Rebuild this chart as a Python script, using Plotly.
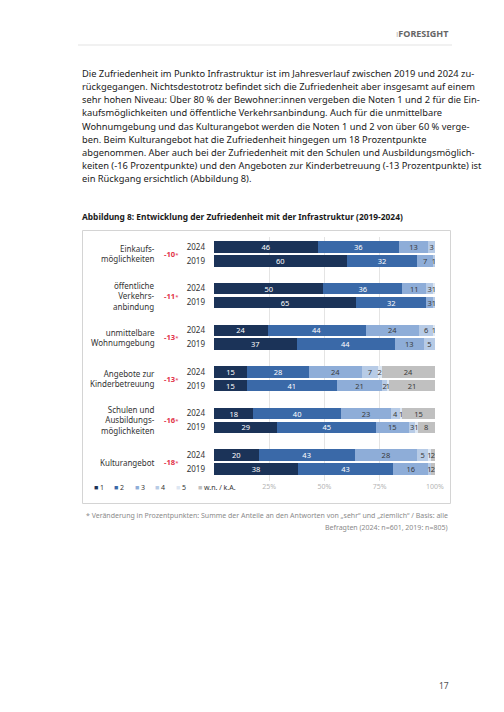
import plotly.graph_objects as go

# ---------------- data ----------------
categories = ["Einkaufs-<br>möglichkeiten", "öffentliche<br>Verkehrs-<br>anbindung",
              "unmittelbare<br>Wohnumgebung", "Angebote zur<br>Kinderbetreuung",
              "Schulen und<br>Ausbildungs-<br>möglichkeiten", "Kulturangebot"]
changes = ["-10", "-11", "-13", "-13", "-16", "-18"]
years = ["2024", "2019"]
grade_labels = ["1", "2", "3", "4", "5", "w.n. / k.A."]
# order: cat0-2024, cat0-2019, cat1-2024, cat1-2019, ...
g1 = [46, 60, 50, 65, 24, 37, 15, 15, 18, 29, 20, 38]
g2 = [36, 32, 36, 32, 44, 44, 28, 41, 40, 45, 43, 43]
g3 = [13, 7, 11, 3, 24, 13, 24, 21, 23, 15, 28, 16]
g4 = [3, 1, 3, 1, 6, 5, 7, 2, 4, 3, 5, 1]
g5 = [0, 0, 1, 0, 1, 0, 2, 1, 1, 1, 1, 0]
gwn = [0, 0, 0, 0, 0, 0, 24, 21, 15, 8, 2, 2]
x_ticks = [25, 50, 75, 100]
x_ticktext = ["25%", "50%", "75%", "100%"]

body_lines = [
    "Die Zufriedenheit im Punkto Infrastruktur ist im Jahresverlauf zwischen 2019 und 2024 zu-",
    "rückgegangen. Nichtsdestotrotz befindet sich die Zufriedenheit aber insgesamt auf einem",
    "sehr hohen Niveau: Über 80 % der Bewohner:innen vergeben die Noten 1 und 2 für die Ein-",
    "kaufsmöglichkeiten und öffentliche Verkehrsanbindung. Auch für die unmittelbare",
    "Wohnumgebung und das Kulturangebot werden die Noten 1 und 2 von über 60 % verge-",
    "ben. Beim Kulturangebot hat die Zufriedenheit hingegen um 18 Prozentpunkte",
    "abgenommen. Aber auch bei der Zufriedenheit mit den Schulen und Ausbildungsmöglich-",
    "keiten (-16 Prozentpunkte) und den Angeboten zur Kinderbetreuung (-13 Prozentpunkte) ist",
    "ein Rückgang ersichtlich (Abbildung 8).",
]
caption = "Abbildung 8: Entwicklung der Zufriedenheit mit der Infrastruktur (2019-2024)"
footnote = ["* Veränderung in Prozentpunkten: Summe der Anteile an den Antworten von „sehr“ und „ziemlich“ / Basis: alle",
            "Befragten (2024: n=601, 2019: n=805)"]

# ---------------- styles ----------------
colors = ["#1b3358", "#3a69a8", "#8eadd8", "#b7cbe6", "#dde7f3", "#c0c0c0"]
text_colors = ["#ffffff", "#ffffff", "#3a3a3a", "#3a3a3a", "#3a3a3a", "#3a3a3a"]
FONT = "Noto Sans"
OFF = 8                      # page body margin of the browser
W, H = 496, 704
PL, PR, PT, PB = 214 - OFF, 435 - OFF, 237 - OFF, 481 - OFF   # plot area pixels (figure coords)


def px(xp):
    return (xp - OFF - PL) / (PR - PL)


def py(yp):
    return (PB - (yp - OFF)) / (PB - PT)


ypos = []
for i in range(len(categories)):
    ypos += [3 * i, 3 * i + 1]

fig = go.Figure()
for k, vals in enumerate([g1, g2, g3, g4, g5, gwn]):
    fig.add_trace(go.Bar(
        x=vals, y=ypos, orientation="h", name=grade_labels[k],
        marker=dict(color=colors[k], line=dict(width=0)),
        width=0.82,
        text=[str(v) if v else "" for v in vals],
        textposition="inside", insidetextanchor="middle", textangle=0,
        textfont=dict(color=text_colors[k], size=7.5, family=FONT),
        showlegend=False, hoverinfo="skip",
    ))

ann = []
# category labels and changes
for i, cat in enumerate(categories):
    yc = 3 * i + 0.5
    ann.append(dict(x=px(157), y=yc, xref="paper", yref="y", text=cat, showarrow=False,
                    xanchor="right", yanchor="middle", align="right",
                    font=dict(size=8, color="#333333", family=FONT)))
    ann.append(dict(x=px(171.5), y=yc, xref="paper", yref="y",
                    text="<b>" + changes[i] + "</b><span style='font-size:6px'>*</span>",
                    showarrow=False, xanchor="center", yanchor="middle",
                    font=dict(size=7.6, color="#e2334a", family=FONT)))

# legend (custom, compact)
leg_x = [92, 112, 133, 153, 174, 196]
for k, lab in enumerate(grade_labels):
    ann.append(dict(x=px(leg_x[k]), y=py(487), xref="paper", yref="paper",
                    text="<span style='color:%s'>■</span> %s" % (colors[k], lab),
                    showarrow=False, xanchor="left", yanchor="middle",
                    font=dict(size=7, color="#333333", family=FONT)))

# header
ann.append(dict(x=px(451), y=py(33), xref="paper", yref="paper",
                text="<span style='color:#b8b8b8'>ı</span><b>FORESIGHT</b>", showarrow=False,
                xanchor="right", yanchor="middle",
                font=dict(size=9, color="#666666", family=FONT)))
# body
for j, line in enumerate(body_lines):
    ann.append(dict(x=px(80), y=py(73.5 + j * 13.15), xref="paper", yref="paper",
                    text=line, showarrow=False, xanchor="left", yanchor="middle",
                    font=dict(size=9.3, color="#1a1a1a", family=FONT)))
# caption
ann.append(dict(x=px(80), y=py(217), xref="paper", yref="paper",
                text="<b>" + caption + "</b>", showarrow=False, xanchor="left", yanchor="middle",
                font=dict(size=8.4, color="#1a1a1a", family=FONT)))
# footnote
for j, line in enumerate(footnote):
    ann.append(dict(x=px(450), y=py(515.5 + j * 11.5), xref="paper", yref="paper",
                    text=line, showarrow=False, xanchor="right", yanchor="middle",
                    font=dict(size=7, color="#8a8a8a", family=FONT)))
# page number
ann.append(dict(x=px(451), y=py(685), xref="paper", yref="paper",
                text="17", showarrow=False, xanchor="right", yanchor="middle",
                font=dict(size=8.5, color="#555555", family=FONT)))

shapes = [
    dict(type="line", xref="paper", yref="paper", x0=px(78), x1=px(452), y0=py(45), y1=py(45),
         line=dict(color="#e3e3e3", width=1)),
    dict(type="rect", xref="paper", yref="paper", x0=px(82.5), x1=px(450.5), y0=py(503.5), y1=py(230.5),
         line=dict(color="#d4d4d4", width=1), layer="below"),
]

fig.update_layout(
    width=W, height=H,
    margin=dict(l=PL, r=W - PR, t=PT, b=H - PB, pad=0),
    paper_bgcolor="white", plot_bgcolor="white",
    barmode="stack", barnorm="percent",
    uniformtext=dict(minsize=7.5, mode="show"),
    font=dict(family=FONT, color="#333333"),
    annotations=ann, shapes=shapes,
    xaxis=dict(range=[0, 100], tickvals=x_ticks, ticktext=x_ticktext, showgrid=True,
               gridcolor="#e4e4e4", gridwidth=1, zeroline=False, showline=False,
               tickfont=dict(size=7, color="#b5b5b5", family=FONT), ticks="",
               fixedrange=True),
    yaxis=dict(range=[16.86, -0.72], tickvals=ypos, ticktext=years * len(categories),
               showgrid=False, zeroline=False, showline=False, ticks="",
               ticklabelstandoff=8,
               tickfont=dict(size=8, color="#333333", family=FONT), fixedrange=True),
)

fig.write_html("out.html")
